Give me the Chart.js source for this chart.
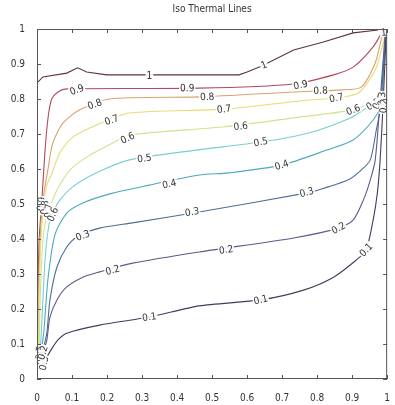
<!DOCTYPE html>
<html>
<head>
<meta charset="utf-8">
<script src="https://cdn.jsdelivr.net/npm/chart.js@4"></script>
<style>
  body { margin: 0; background: #fff; }
</style>
</head>
<body>
<canvas id="isoChart" width="395" height="405"></canvas>
<script>
const FONT = '"Liberation Sans Narrow", "DejaVu Sans Condensed", Arial, sans-serif';

// contour levels and their colours (jet-like, washed out)
const levels = [0.1, 0.2, 0.3, 0.4, 0.5, 0.6, 0.7, 0.8, 0.9, 1];
const levelColors = ["#3e3e5e", "#5a5a8c", "#4d6e94", "#4aaabd", "#78cfd2",
                     "#cde58f", "#e7dc72", "#d8a26e", "#b04a5c", "#5e3535"];

// traced contour lines, [x, y] pairs
const iso01 = [[0.023,0.054],[0.045,0.091],[0.062,0.114],[0.085,0.131],[0.179,0.154],[0.321,0.177],
  [0.463,0.209],[0.639,0.226],[0.761,0.254],[0.847,0.291],[0.912,0.34],[0.94,0.369],[0.96,0.454],
  [0.972,0.531],[0.98,0.626],[0.989,0.797],[0.997,0.983]];
const iso02 = [[0.017,0.074],[0.028,0.111],[0.037,0.177],[0.057,0.226],[0.085,0.263],[0.131,0.291],
  [0.179,0.306],[0.273,0.331],[0.463,0.363],[0.733,0.403],[0.861,0.431],[0.903,0.454],[0.932,0.511],
  [0.952,0.569],[0.966,0.626],[0.98,0.797],[0.994,0.983]];
const iso03 = [[0.017,0.083],[0.028,0.131],[0.037,0.226],[0.057,0.32],[0.085,0.377],[0.114,0.406],
  [0.179,0.431],[0.273,0.446],[0.463,0.477],[0.767,0.531],[0.804,0.54],[0.889,0.569],[0.926,0.597],
  [0.952,0.626],[0.969,0.711],[0.98,0.769],[0.991,0.911],[0.997,0.991]];
const iso04 = [[0.011,0.069],[0.02,0.14],[0.031,0.283],[0.051,0.411],[0.085,0.474],[0.131,0.503],
  [0.216,0.531],[0.321,0.554],[0.463,0.583],[0.548,0.589],[0.699,0.611],[0.827,0.654],[0.903,0.683],
  [0.96,0.74],[0.983,0.783],[0.991,0.911],[0.997,0.997]];
const iso05 = [[0.009,0.069],[0.014,0.169],[0.023,0.34],[0.034,0.44],[0.045,0.474],[0.065,0.511],
  [0.102,0.549],[0.17,0.589],[0.264,0.626],[0.455,0.654],[0.639,0.677],[0.776,0.703],[0.895,0.746],
  [0.94,0.774],[0.98,0.797],[0.991,0.911],[0.997,0.997]];
const iso06 = [[0.006,0.069],[0.009,0.226],[0.017,0.397],[0.028,0.469],[0.037,0.491],[0.057,0.54],
  [0.094,0.597],[0.142,0.634],[0.216,0.674],[0.264,0.697],[0.528,0.72],[0.733,0.746],[0.903,0.769],
  [0.952,0.789],[0.98,0.811],[0.991,0.911],[0.997,0.997]];
const iso07 = [[0.004,0.069],[0.006,0.226],[0.011,0.397],[0.02,0.511],[0.028,0.554],[0.043,0.589],
  [0.065,0.646],[0.102,0.691],[0.17,0.726],[0.264,0.76],[0.534,0.771],[0.776,0.797],[0.855,0.803],
  [0.918,0.817],[0.966,0.883],[0.989,0.96],[0.997,0.997]];
const iso08 = [[0.003,0.069],[0.004,0.226],[0.009,0.397],[0.017,0.511],[0.031,0.597],[0.045,0.674],
  [0.074,0.731],[0.122,0.769],[0.207,0.8],[0.463,0.806],[0.733,0.82],[0.869,0.826],[0.926,0.834],
  [0.966,0.903],[0.983,0.969],[0.991,0.997]];
const iso09 = [[0.002,0.069],[0.003,0.226],[0.006,0.397],[0.014,0.511],[0.023,0.654],[0.032,0.75],
  [0.042,0.8],[0.06,0.82],[0.085,0.829],[0.463,0.831],[0.733,0.843],[0.847,0.869],[0.903,0.891],
  [0.96,0.949],[0.989,0.997]];
const iso10 = [[0.003,0.849],[0.017,0.863],[0.085,0.874],[0.116,0.889],[0.142,0.877],[0.199,0.869],
  [0.577,0.869],[0.6,0.877],[0.642,0.894],[0.733,0.94],[0.818,0.963],[0.903,0.989],[0.974,0.997]];
const isoLines = [iso01, iso02, iso03, iso04, iso05, iso06, iso07, iso08, iso09, iso10];

// inline contour labels: [level, x, y]
const labelSpots = [
  [1, 0.321, 0.866], [1, 0.648, 0.897],
  [0.9, 0.114, 0.826], [0.9, 0.429, 0.831], [0.9, 0.753, 0.84],
  [0.8, 0.165, 0.785], [0.8, 0.486, 0.806], [0.8, 0.81, 0.824],
  [0.7, 0.213, 0.74], [0.7, 0.534, 0.771], [0.7, 0.855, 0.803],
  [0.6, 0.259, 0.688], [0.6, 0.582, 0.722], [0.6, 0.903, 0.769],
  [0.5, 0.307, 0.63], [0.5, 0.639, 0.677],
  [0.4, 0.378, 0.557], [0.4, 0.699, 0.611],
  [0.3, 0.131, 0.41], [0.3, 0.443, 0.477], [0.3, 0.77, 0.533],
  [0.2, 0.216, 0.311], [0.2, 0.54, 0.369], [0.2, 0.861, 0.431],
  [0.1, 0.321, 0.177], [0.1, 0.639, 0.226], [0.1, 0.94, 0.369],
  // crowded spots
  [0.9, 0.012, 0.5], [0.8, 0.022, 0.49], [0.7, 0.033, 0.48], [0.6, 0.045, 0.47],
  [0.5, 0.008, 0.075], [0.4, 0.013, 0.06], [0.3, 0.02, 0.045], [0.2, 0.017, 0.075],
  [0.5, 0.96, 0.785], [0.4, 0.975, 0.79], [0.3, 0.985, 0.8], [0.2, 0.99, 0.78],
  [1, 0.99, 0.99]
];

const fmt = (v) => String(+(+v).toFixed(1));

// find line direction near a label, in pixels
function angleAt(chart, lvl, px, py) {
  const idx = levels.indexOf(lvl);
  const pts = chart.getDatasetMeta(idx).data;
  let best = Infinity, ang = 0;
  for (let i = 0; i < pts.length - 1; i++) {
    const a = pts[i], b = pts[i + 1];
    const mx = (a.x + b.x) / 2, my = (a.y + b.y) / 2;
    const d = (mx - px) ** 2 + (my - py) ** 2;
    if (d < best) {
      best = d;
      ang = Math.atan2(b.y - a.y, b.x - a.x);
    }
  }
  if (ang > Math.PI / 2) ang -= Math.PI;
  if (ang < -Math.PI / 2) ang += Math.PI;
  return ang;
}

const frameAndLabels = {
  id: "frameAndLabels",
  afterDatasetsDraw(chart) {
    const { ctx, chartArea: area, scales: { x, y } } = chart;
    ctx.save();
    // labels on the lines
    ctx.font = "10px " + FONT;
    ctx.textAlign = "center";
    ctx.textBaseline = "middle";
    labelSpots.forEach(([lvl, lx, ly]) => {
      const px = x.getPixelForValue(lx);
      const py = y.getPixelForValue(ly);
      const txt = fmt(lvl);
      ctx.save();
      ctx.translate(px, py);
      ctx.rotate(angleAt(chart, lvl, px, py));
      const w = ctx.measureText(txt).width + 2;
      ctx.fillStyle = "rgba(255,255,255,0.9)";
      ctx.fillRect(-w / 2, -4.5, w, 9);
      ctx.fillStyle = "#333";
      ctx.fillText(txt, 0, 0.5);
      ctx.restore();
    });
    // box and inward ticks
    ctx.strokeStyle = "#555";
    ctx.lineWidth = 1;
    ctx.strokeRect(area.left + 0.5, area.top + 0.5, area.right - area.left - 1, area.bottom - area.top - 1);
    ctx.beginPath();
    x.ticks.forEach((t) => {
      const p = Math.round(x.getPixelForValue(t.value)) + 0.5;
      ctx.moveTo(p, area.bottom); ctx.lineTo(p, area.bottom - 4);
      ctx.moveTo(p, area.top); ctx.lineTo(p, area.top + 4);
    });
    y.ticks.forEach((t) => {
      const p = Math.round(y.getPixelForValue(t.value)) + 0.5;
      ctx.moveTo(area.left, p); ctx.lineTo(area.left + 4, p);
      ctx.moveTo(area.right, p); ctx.lineTo(area.right - 4, p);
    });
    ctx.stroke();
    ctx.restore();
  }
};

const datasets = isoLines.map((pts, i) => ({
  label: fmt(levels[i]),
  data: pts.map(([px, py]) => ({ x: px, y: py })),
  borderColor: levelColors[i],
  borderWidth: 1.1,
  pointRadius: 0,
  tension: levels[i] === 1 ? 0 : 0.25,
  fill: false
}));

new Chart(document.getElementById("isoChart"), {
  type: "line",
  data: { datasets },
  options: {
    responsive: false,
    animation: false,
    devicePixelRatio: 1,
    layout: { padding: { right: 6, top: 0 } },
    plugins: {
      legend: { display: false },
      tooltip: { enabled: false },
      title: {
        display: true,
        text: "Iso Thermal Lines",
        fullSize: false,
        color: "#333",
        font: { family: FONT, size: 10, weight: "normal" },
        padding: { top: 3, bottom: 14 }
      }
    },
    scales: {
      x: {
        type: "linear",
        min: 0,
        max: 1,
        grid: { display: false },
        border: { display: false },
        ticks: { stepSize: 0.1, color: "#333", padding: 5, maxRotation: 0,
                 font: { family: FONT, size: 10 }, callback: (v) => fmt(v) },
        afterFit: (s) => { s.height = 26; }
      },
      y: {
        type: "linear",
        min: 0,
        max: 1,
        grid: { display: false },
        border: { display: false },
        ticks: { stepSize: 0.1, color: "#333", padding: 4,
                 font: { family: FONT, size: 10 }, callback: (v) => fmt(v) },
        afterFit: (s) => { s.width = 37; }
      }
    }
  },
  plugins: [frameAndLabels]
});
</script>
</body>
</html>
